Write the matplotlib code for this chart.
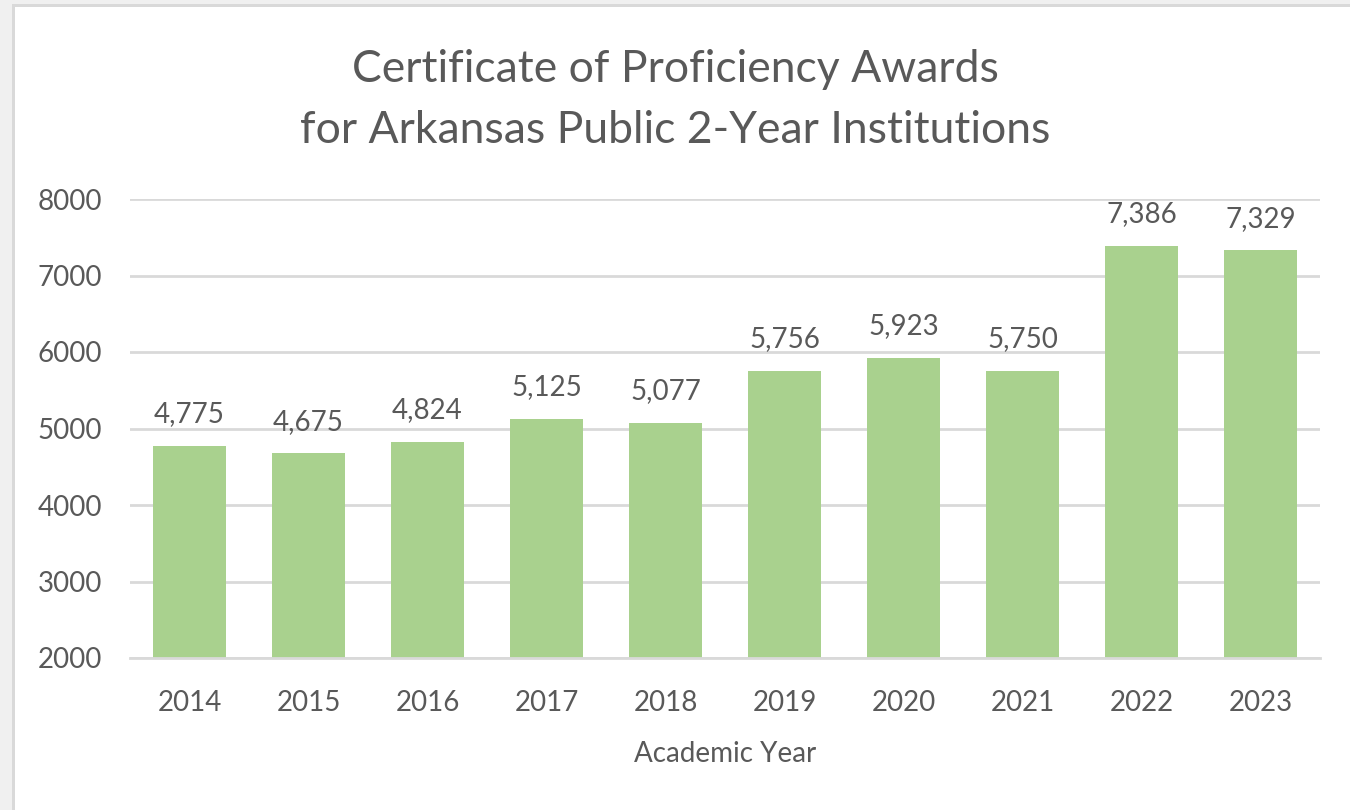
import matplotlib
matplotlib.use("Agg")
import matplotlib.pyplot as plt
from matplotlib.patches import Rectangle

years = ["2014", "2015", "2016", "2017", "2018", "2019", "2020", "2021", "2022", "2023"]
awards = [4775, 4675, 4824, 5125, 5077, 5756, 5923, 5750, 7386, 7329]
yticks = [2000, 3000, 4000, 5000, 6000, 7000, 8000]

plt.rcParams['font.family'] = ['Lato', 'DejaVu Sans']
txt = '#595959'

fig = plt.figure(figsize=(13.5, 8.1), dpi=100)
fig.patch.set_facecolor('#f0f0f0')
W, H = 1350, 810
# chart area border and white fill
fig.patches.append(Rectangle((12 / W, 0), 1 - 12 / W, 1 - 4 / H, transform=fig.transFigure,
                             facecolor='#d9d9d9', edgecolor='none', zorder=-2))
fig.patches.append(Rectangle((15 / W, 0), 1 - 15 / W, 1 - 7 / H, transform=fig.transFigure,
                             facecolor='white', edgecolor='none', zorder=-1))

ax = fig.add_axes([130 / W, 1 - 658 / H, (1320 - 130) / W, (658 - 199) / H])
ax.set_zorder(1)
ax.set_facecolor('none')
x = range(len(years))
bars = ax.bar(x, awards, width=0.62, color='#a9d18e', zorder=2)
ax.set_ylim(2000, 8000)
ax.set_xlim(-0.5, len(years) - 0.5)
ax.set_yticks(yticks)
ax.set_yticklabels([str(v) for v in yticks])
ax.set_xticks(list(x))
ax.set_xticklabels(years)
ax.grid(axis='y', color='#d9d9d9', linewidth=2, zorder=0)
ax.set_axisbelow(True)
for s in ['top', 'right', 'left']:
    ax.spines[s].set_visible(False)
ax.spines['bottom'].set_color('#d9d9d9')
ax.spines['bottom'].set_linewidth(2)
ax.tick_params(axis='both', length=0, labelsize=20, colors=txt)
ax.tick_params(axis='x', pad=23)
ax.tick_params(axis='y', pad=20)

for xi, v in zip(x, awards):
    ax.annotate(f"{v:,}", (xi, v), xytext=(0, 17), textcoords='offset points',
                ha='center', va='baseline', fontsize=20, color=txt)

ax.set_xlabel("Academic Year", fontsize=20, color=txt, labelpad=18)
fig.text(0.5, 1 - 100 / H, "Certificate of Proficiency Awards\nfor Arkansas Public 2-Year Institutions",
         ha='center', va='center', fontsize=32, color=txt, linespacing=1.6)

fig.savefig("out.png", dpi=100, facecolor=fig.get_facecolor())
